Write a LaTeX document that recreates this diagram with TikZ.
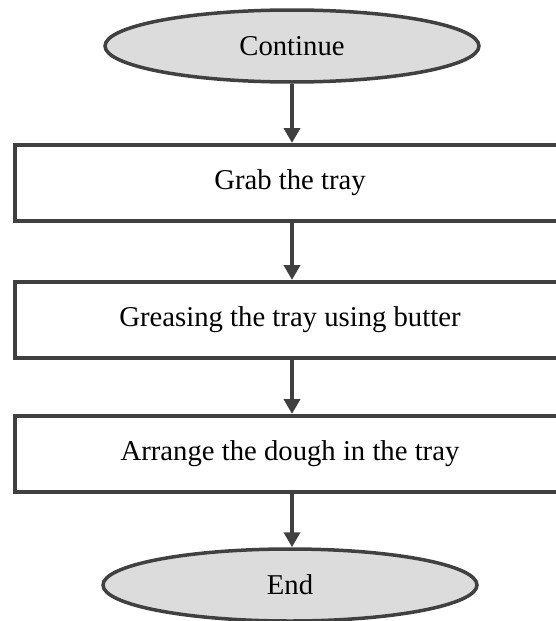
\documentclass[tikz,border=0pt]{standalone}
\usepackage{fontspec}
\setmainfont{Liberation Serif}
\usetikzlibrary{shapes.geometric,arrows.meta}

\definecolor{edge}{HTML}{404040}
\definecolor{termfill}{HTML}{DCDCDC}

\tikzset{
  terminal/.style={ellipse, draw=edge, fill=termfill, line width=3.5pt,
    minimum width=374pt, minimum height=72pt, inner sep=0pt,
    font=\fontsize{28.7}{34}\selectfont},
  stepbox/.style={rectangle, draw=edge, line width=4pt,
    minimum width=550pt, minimum height=76pt, inner sep=0pt,
    font=\fontsize{28.7}{34}\selectfont},
  flow/.style={draw=edge, line width=4pt,
    -{Triangle[length=15pt,width=16pt]}}
}

\begin{document}
\begin{tikzpicture}[x=1pt,y=-1pt]
  \useasboundingbox (0,0) rectangle (555,621);

  \node[terminal] (start) at (292,46)  {Continue};
  \node[stepbox]  (grab)  at (290,183) {Grab the tray};
  \node[stepbox]  (grease) at (290,320) {Greasing the tray using butter};
  \node[stepbox]  (arrange) at (290,454) {Arrange the dough in the tray};
  \node[terminal] (stop)  at (290,585) {End};

  \draw[flow] (start.south) -- (start.south |- grab.north);
  \draw[flow] (grab.south -| start.south) -- (start.south |- grease.north);
  \draw[flow] (grease.south -| start.south) -- (start.south |- arrange.north);
  \draw[flow] (arrange.south -| start.south) -- (start.south |- stop.north);
\end{tikzpicture}
\end{document}
